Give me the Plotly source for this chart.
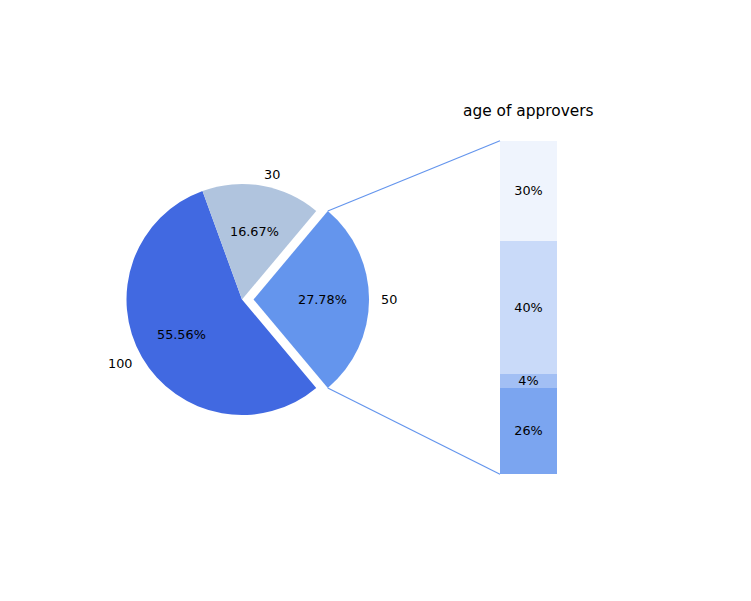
import math
import plotly.graph_objects as go

# overall split (pie) and the age split of the exploded slice (bar)
pie_values = [50, 100, 30]
pie_labels = ["50", "100", "30"]
pie_colors = ["cornflowerblue", "royalblue", "lightsteelblue"]
pie_pull = [0.1, 0, 0]

age_ratios = [0.26, 0.04, 0.40, 0.30]
age_labels = ["under 21", "21-40", "41-60", "over 61"]
age_alpha = [0.85, 0.6, 0.35, 0.1]

W, H = 751, 601
FONT = "DejaVu Sans"
small, big = 12.8, 15.4

# layout in pixels of the page (the html body adds an 8px margin)
PAGE_OFF = 8
cx, cy, r = 242, 299.5, 115.5
bar_x0, bar_x1 = 500, 557
bar_top, bar_bot = 140.7, 474.3


def px(x):
    return (x - PAGE_OFF) / W


def py(y):
    return 1 - (y - PAGE_OFF) / H


def note(text, x, y, size=small, **kw):
    d = dict(text=text, x=x, y=y, xref="paper", yref="paper", showarrow=False,
             xanchor="center", yanchor="middle", borderpad=0, borderwidth=0,
             font=dict(size=size))
    d.update(kw)
    return d


total = sum(pie_values)
rotation = 90 - 180 * pie_values[0] / total
R = r * (1 + max(pie_pull))

fig = go.Figure()

fig.add_trace(
    go.Pie(
        values=pie_values,
        labels=pie_labels,
        marker=dict(colors=pie_colors),
        pull=pie_pull,
        sort=False,
        direction="clockwise",
        rotation=rotation,
        textinfo="none",
        hoverinfo="skip",
        showlegend=False,
        domain=dict(x=[px(cx - R), px(cx + R)], y=[py(cy + R), py(cy - R)]),
    )
)

annotations = []
start = rotation
for v, lab, pull in zip(pie_values, pie_labels, pie_pull):
    mid = 90 - (start + 180 * v / total)
    start += 360 * v / total
    c, s = math.cos(math.radians(mid)), math.sin(math.radians(mid))
    ox, oy = cx + pull * r * c, cy - pull * r * s
    annotations.append(note(f"{100 * v / total:.2f}%",
                            px(ox + 0.6 * r * c), py(oy - 0.6 * r * s)))
    annotations.append(note(lab, px(ox + 1.1 * r * c), py(oy - 1.1 * r * s),
                            xanchor="left" if c > 0 else "right"))

# stacked bar
bottom = 0
for ratio, lab, a in zip(age_ratios, age_labels, age_alpha):
    fig.add_trace(
        go.Bar(
            x=[0], y=[ratio], width=1,
            marker=dict(color=f"rgba(100,149,237,{a})", line=dict(width=0)),
            text=[f"{ratio * 100:.0f}%"], textposition="inside",
            insidetextanchor="middle", textangle=0,
            textfont=dict(size=small, color="black"),
            hoverinfo="skip", showlegend=False,
        )
    )
    annotations.append(note(lab, 1.0, bottom + ratio / 2, xref="x", yref="y",
                            xanchor="left", yshift=3.5))
    bottom += ratio

annotations.append(note("age of approvers", px((bar_x0 + bar_x1) / 2), py(111), size=big))

# connectors from the exploded wedge to the bar
half = math.radians(180 * pie_values[0] / total)
ex = cx + pie_pull[0] * r
shapes = []
for sign, by in [(1, bar_top), (-1, bar_bot)]:
    shapes.append(dict(
        type="line", xref="paper", yref="paper",
        x0=px(ex + r * math.cos(half)), y0=py(cy - sign * r * math.sin(half)),
        x1=px(bar_x0), y1=py(by),
        line=dict(color="cornflowerblue", width=1.2),
    ))

fig.update_layout(
    width=W, height=H,
    margin=dict(l=0, r=0, t=0, b=0),
    paper_bgcolor="white", plot_bgcolor="white",
    font=dict(family=FONT, color="black"),
    barmode="stack",
    uniformtext=dict(minsize=small, mode="show"),
    xaxis=dict(domain=[px(bar_x0), px(bar_x1)], range=[-0.5, 0.5], visible=False),
    yaxis=dict(domain=[py(bar_bot), py(bar_top)], range=[0, sum(age_ratios)], visible=False),
    annotations=annotations,
    shapes=shapes,
)

fig.write_html("out.html")
